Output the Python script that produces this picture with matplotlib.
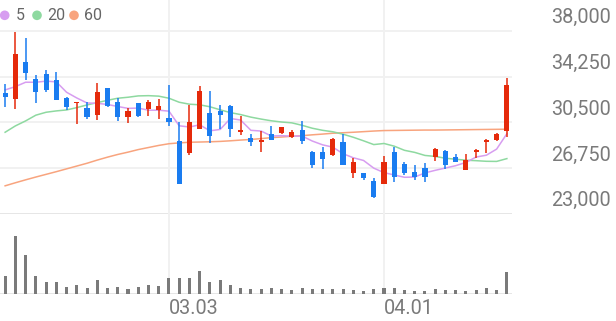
import matplotlib
matplotlib.use("Agg")
import matplotlib.pyplot as plt
from matplotlib.transforms import blended_transform_factory
import numpy as np

plt.rcParams['font.family'] = ['Roboto', 'DejaVu Sans']

# daily candles
opens = [32900, 32430, 35490, 34040, 34450, 33990, 32540, 32100, 31720, 31120,
         33310, 32160, 30930, 32080, 31610, 31530, 30900, 29020, 28030, 29950,
         31310, 31470, 31880, 29700, 29210, 28930, 29540, 29620, 29340, 29890,
         28110, 28110, 27840, 28880, 26400, 26400, 25740, 25450, 28060, 27080,
         26480, 26800, 27710, 28170, 27680, 26620, 28070, 28930, 29070, 29810]
highs = [33640, 37890, 37400, 34400, 34810, 34670, 32620, 32210, 32160, 33720,
         33360, 32490, 31720, 32100, 32350, 32430, 33580, 30570, 31940, 33500,
         33090, 31940, 31940, 31060, 29540, 29810, 30240, 30160, 29890, 30630,
         28170, 28520, 29260, 29540, 27570, 26400, 25940, 27760, 28520, 27250,
         27030, 27160, 28390, 28250, 27900, 27900, 28310, 29150, 29620, 34130]
lows = [31800, 31590, 33990, 32080, 33030, 32350, 31530, 30380, 30770, 30710,
        31800, 30630, 30440, 30980, 31060, 30770, 30240, 25450, 27840, 29950,
        28850, 29970, 29340, 29480, 28610, 28110, 29070, 29540, 29210, 28720,
        26800, 26670, 27790, 27030, 25990, 25800, 24300, 25450, 25660, 26210,
        25800, 25660, 27350, 26700, 27250, 26620, 27570, 28030, 28990, 29340]
closes = [32620, 36090, 34530, 33030, 33170, 32350, 31800, 32210, 30980, 33030,
          31860, 30980, 31450, 31060, 32210, 31860, 30570, 25450, 30570, 33110,
          29400, 31120, 29950, 29920, 28930, 29070, 29070, 30110, 29700, 28990,
          27030, 27520, 29150, 27030, 27300, 25940, 24380, 27300, 26070, 26350,
          26070, 26070, 28340, 27030, 27300, 27430, 28250, 29070, 29560, 33580]
volumes = [183000, 577000, 390000, 177000, 123000, 117000, 73000, 90000, 60000, 140000,
           63000, 73000, 53000, 67000, 93000, 77000, 163000, 157000, 163000, 227000,
           120000, 140000, 90000, 60000, 50000, 47000, 60000, 47000, 40000, 63000,
           47000, 47000, 47000, 50000, 43000, 33000, 50000, 57000, 63000, 40000,
           33000, 33000, 47000, 40000, 37000, 33000, 40000, 57000, 43000, 217000]

# moving averages
ma5 = [33170, 33440, 33800, 33800, 33890, 33830, 32980, 32510, 32100, 32070,
       31980, 31810, 31660, 31680, 31510, 31510, 31430, 30230, 30130, 30310,
       29820, 29930, 30830, 30700, 29860, 29800, 29390, 29420, 29380, 29390,
       28980, 28670, 28480, 27940, 27610, 27390, 26760, 26390, 26200, 26010,
       26030, 26370, 26580, 26770, 26960, 27230, 27670, 27820, 28320, 29580]
ma20 = [29700, 30220, 30630, 31100, 31340, 31450, 31530, 31720, 31940, 32130,
        32320, 32490, 32570, 32680, 32700, 32660, 32490, 32160, 32000, 31950,
        31790, 31540, 31310, 31150, 30940, 30780, 30640, 30540, 30470, 30270,
        30030, 29860, 29740, 29540, 29290, 29000, 28690, 28780, 28560, 28220,
        28050, 27800, 27720, 27570, 27490, 27410, 27370, 27320, 27310, 27540]
ma60 = [25310, 25560, 25800, 26030, 26250, 26470, 26700, 26930, 27160, 27420,
        27660, 27880, 28070, 28280, 28450, 28620, 28760, 28830, 28880, 28900,
        28920, 28950, 29000, 29060, 29110, 29180, 29260, 29310, 29370, 29420,
        29490, 29550, 29620, 29660, 29700, 29750, 29800, 29840, 29850, 29860,
        29870, 29880, 29880, 29890, 29900, 29910, 29920, 29930, 29940, 29950]

yticks = [38000, 34250, 30500, 26750, 23000]
xtick_pos = [16, 37]
xtick_labels = ["03.03", "04.01"]

up_color = "#e52a0b"
down_color = "#1a7cf0"
ma_colors = {"5": "#d79df0", "20": "#8ed9a0", "60": "#f8a47e"}
grid_color = "#f1f1f1"
label_color = "#7a7a7a"

W, H = 616, 321
fig = plt.figure(figsize=(W / 100, H / 100), dpi=100)


def px_axes(x0, y0, x1, y1):
    a = fig.add_axes([x0 / W, 1 - y1 / H, (x1 - x0) / W, (y1 - y0) / H])
    a.set_facecolor("none")
    for s in a.spines.values():
        s.set_visible(False)
    a.set_xticks([])
    a.set_yticks([])
    return a


n = len(closes)
x = np.arange(n)
o = np.array(opens)
c = np.array(closes)
colors = [up_color if cc >= oo else down_color for oo, cc in zip(o, c)]

# price panel, top of axes sits 31px above the 38,000 line
ax = px_axes(0, 0, 512, 214)
ax.set_xlim(-0.5, n - 0.5)
units_per_px = (38000 - 23000) / (214 - 31)
ax.set_ylim(23000, 38000 + 31 * units_per_px)

for v in yticks:
    ax.axhline(v, color=grid_color if v != 23000 else "#e6e6e6", lw=1.4, zorder=0)
for p in xtick_pos:
    ax.axvline(p, color=grid_color, lw=1.4, zorder=0)

ax.plot(x, ma60, color=ma_colors["60"], lw=1.1, zorder=1)
ax.plot(x, ma20, color=ma_colors["20"], lw=1.1, zorder=1)
ax.plot(x, ma5, color=ma_colors["5"], lw=1.1, zorder=1)

ax.vlines(x, lows, highs, colors=colors, lw=1.1, zorder=2)
body_bottom = np.minimum(o, c)
body_h = np.maximum(np.abs(c - o), 90)
ax.bar(x, body_h, bottom=body_bottom, width=0.5, color=colors, zorder=3)

# y labels on the right, sitting above their gridlines
tr = blended_transform_factory(fig.transFigure, ax.transData)
for v in yticks:
    ax.annotate(f"{v:,}", xy=(611 / W, v), xycoords=tr, xytext=(0, 9.5),
                textcoords="offset points", ha="right", va="center",
                fontsize=14.3, color=label_color, annotation_clip=False)

# volume panel
vol = px_axes(0, 214, 512, 294)
vol.set_xlim(-0.5, n - 0.5)
vol.set_ylim(0, 800000)
vol.axhline(0, color="#e6e6e6", lw=1.4, zorder=0)
for p in xtick_pos:
    vol.axvline(p, color=grid_color, lw=1.4, zorder=0)
vol.bar(x, volumes, width=0.3, color="#7a7a7a", zorder=2)

trx = blended_transform_factory(vol.transData, fig.transFigure)
for p, lab in zip(xtick_pos, xtick_labels):
    vol.text(p, 1 - 308 / H, lab, transform=trx, ha="left", va="center",
             fontsize=14.3, color=label_color)

# legend
lg = fig.add_axes([0, 0, 1, 1])
lg.set_xlim(0, W)
lg.set_ylim(H, 0)
lg.axis("off")
for cx, tx, name in [(4.7, 16, "5"), (37, 47, "20"), (74, 84, "60")]:
    lg.scatter([cx], [15.3], s=48, color=ma_colors[name], edgecolors="none")
    lg.text(tx, 15.8, name, ha="left", va="center", fontsize=11.5, color="#666666")

fig.savefig("out.png", dpi=100)
